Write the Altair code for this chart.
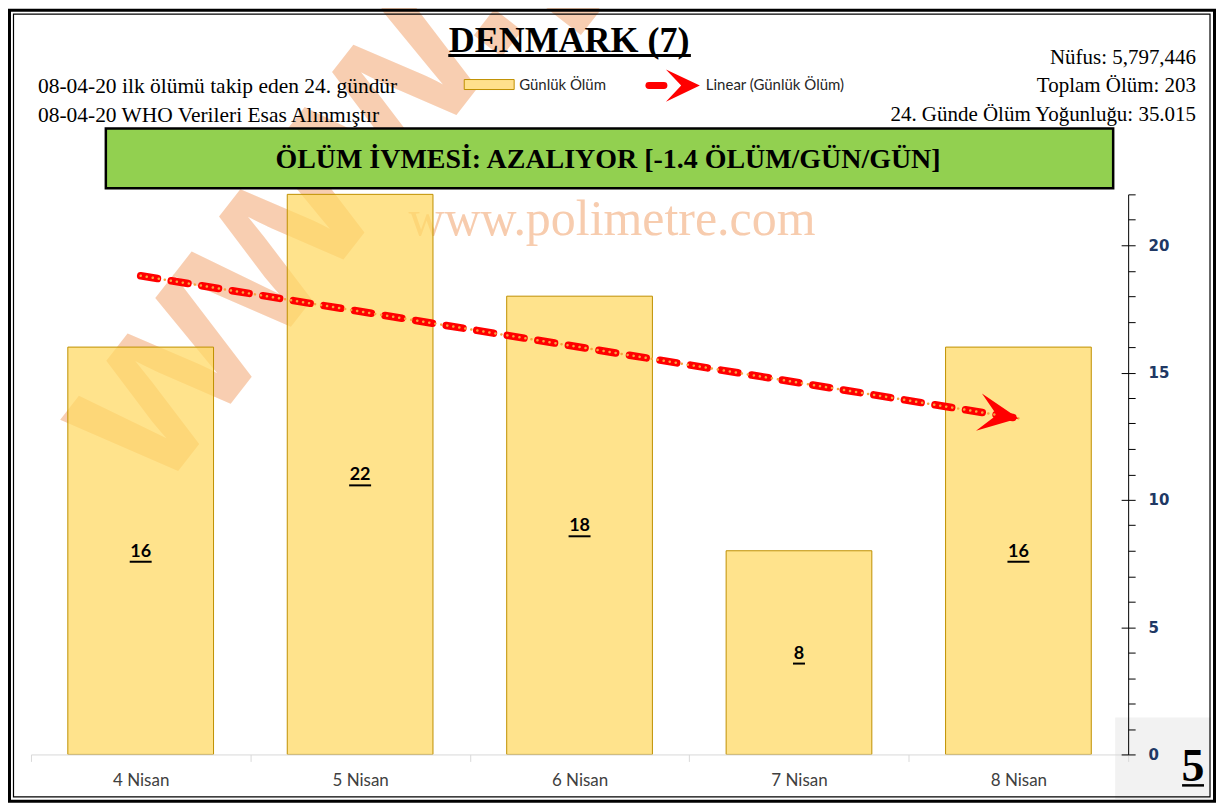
import json
import altair as alt
import pandas as pd

# ---------------- data ----------------
days = ["4 Nisan", "5 Nisan", "6 Nisan", "7 Nisan", "8 Nisan"]
deaths = [16, 22, 18, 8, 16]
day_no = [1, 2, 3, 4, 5]
y_major = [0, 5, 10, 15, 20]
y_minor = list(range(0, 23))

title_text = "DENMARK (7)"
left_lines = ["08-04-20 ilk ölümü takip eden 24. gündür",
              "08-04-20 WHO Verileri Esas Alınmıştır"]
right_lines = ["Nüfus: 5,797,446", "Toplam Ölüm: 203",
               "24. Günde Ölüm Yoğunluğu: 35.015"]
banner_text = "ÖLÜM İVMESİ: AZALIYOR [-1.4 ÖLÜM/GÜN/GÜN]"
legend_bar = "Günlük Ölüm"
legend_line = "Linear (Günlük Ölüm)"
watermark = "www.polimetre.com"
page_no = "5"

df = pd.DataFrame({"day": days, "deaths": deaths, "n": day_no})

W, H = 1099, 561
SERIF = "Liberation Serif"
SANS = "Lato"
BAR_FILL = "#FFD966"
LEG_FILL = "#FFE08C"
BAR_STROKE = "#BF9000"
ARROW = "M0,0 L-2,-0.95 L-1.1,0 L-2,0.95 Z"

xs = alt.Scale(domain=days, paddingInner=0, paddingOuter=0)
ys = alt.Scale(domain=[0, 22], nice=False, zero=True)

X_AXIS = alt.Axis(title=None, orient="bottom", tickBand="extent",
                  domainColor="#D9D9D9", tickColor="#D9D9D9", tickSize=7,
                  labelFont=SANS, labelFontSize=17, labelColor="#404040",
                  labelPadding=11, labelAngle=0, grid=False, zindex=1)

base = alt.Chart(df)
one = alt.Data(values=[{}])


def xenc():
    return alt.X("day:N", scale=xs, sort=days, axis=X_AXIS)


# gray box bottom-right
gray_box = alt.Chart(one).mark_rect(fill="#F2F2F2").encode(
    x=alt.value(1086), x2=alt.value(1182), y=alt.value(524), y2=alt.value(606))

big_wm = alt.Chart(one).mark_text(
    text=watermark, font="Liberation Sans Narrow, Liberation Sans", fontWeight="bold",
    fontSize=236, color="#F4B183", opacity=0.62, angle=308, align="left",
    baseline="alphabetic"
).encode(x=alt.value(128), y=alt.value(302))

small_wm = alt.Chart(one).mark_text(
    text=watermark, font=SERIF, fontSize=50, color="#F4B183", opacity=0.65,
    align="center", baseline="alphabetic").encode(x=alt.value(582), y=alt.value(41))

bars = base.mark_bar(width=alt.RelativeBandSize(0.664), fill=BAR_FILL, fillOpacity=0.75,
                     stroke=BAR_STROKE, strokeWidth=1).encode(
    x=xenc(),
    y=alt.Y("deaths:Q", scale=ys,
            axis=alt.Axis(orient="right", values=y_minor, title=None,
                          labelExpr="datum.value % 5 == 0 ? datum.label : ''",
                          labelOverlap=False, tickSize=7, tickColor="black",
                          domainColor="black", labelFont="DejaVu Sans",
                          labelFontWeight="bold", labelFontSize=15,
                          labelColor="#203864", labelPadding=13, grid=False,
                          zindex=1)),
)

inner_ticks = base.mark_point(opacity=0).encode(
    x=xenc(),
    y=alt.Y("deaths:Q", scale=ys,
            axis=alt.Axis(orient="left", offset=-W, values=y_major, labels=False,
                          domain=False, tickSize=7, tickColor="black", title=None,
                          grid=False, zindex=1)),
)

banner_box = alt.Chart(one).mark_rect(fill="#92D050", stroke="black", strokeWidth=2.5).encode(
    x=alt.value(75), x2=alt.value(1084), y=alt.value(-66), y2=alt.value(-6))
banner = alt.Chart(one).mark_text(
    text=banner_text, font=SERIF, fontWeight="bold", fontSize=28, color="black",
    align="center", baseline="alphabetic").encode(x=alt.value(578), y=alt.value(-26))

title = alt.Chart(one).mark_text(
    text=title_text, font=SERIF, fontWeight="bold", fontSize=36, color="black",
    align="center", baseline="alphabetic").encode(x=alt.value(539), y=alt.value(-143))
title_ul = alt.Chart(one).mark_rule(color="black", strokeWidth=3).encode(
    x=alt.value(418), x2=alt.value(661), y=alt.value(-139))

left_txt = [alt.Chart(one).mark_text(
    text=t, font=SERIF, fontSize=21.5, color="black", align="left",
    baseline="alphabetic").encode(x=alt.value(7), y=alt.value(yy))
    for t, yy in zip(left_lines, [-102, -72])]
right_txt = [alt.Chart(one).mark_text(
    text=t, font=SERIF, fontSize=21, color="black", align="right",
    baseline="alphabetic").encode(x=alt.value(1167), y=alt.value(yy))
    for t, yy in zip(right_lines, [-131, -103, -73])]

leg_rect = alt.Chart(one).mark_rect(fill=LEG_FILL, stroke=BAR_STROKE, strokeWidth=1).encode(
    x=alt.value(434), x2=alt.value(484), y=alt.value(-115), y2=alt.value(-105))
leg_t1 = alt.Chart(one).mark_text(
    text=legend_bar, font=SANS, fontSize=15, color="#262626", align="left",
    baseline="middle").encode(x=alt.value(489), y=alt.value(-110))
leg_dash = alt.Chart(one).mark_rule(color="#FF0000", strokeWidth=7, strokeCap="round").encode(
    x=alt.value(619), x2=alt.value(634), y=alt.value(-109))
leg_arrow = alt.Chart(one).mark_point(
    shape=ARROW, size=1156, filled=True, color="#FF0000", opacity=1, strokeWidth=0
).encode(x=alt.value(670), y=alt.value(-109))
leg_t2 = alt.Chart(one).mark_text(
    text=legend_line, font=SANS, fontSize=15, color="#262626", align="left",
    baseline="middle").encode(x=alt.value(676), y=alt.value(-110))

labels = base.transform_calculate(mid="datum.deaths / 2").mark_text(
    font=SANS, fontWeight="bold", fontSize=18, color="black", baseline="middle", dy=1
).encode(x=xenc(), y=alt.Y("mid:Q", scale=ys, axis=None), text="deaths:Q")
label_ul = base.transform_calculate(
    mid="datum.deaths / 2", ulen="length(toString(datum.deaths)) * 10 + 2"
).mark_tick(thickness=2, yOffset=11, color="black", opacity=1).encode(
    x=xenc(), y=alt.Y("mid:Q", scale=ys, axis=None),
    size=alt.Size("ulen:Q", scale=None, legend=None))

trend = base.transform_regression("n", "deaths", method="linear").transform_calculate(
    day=f"{json.dumps(days)}[datum.n - 1]")
trend_red = trend.mark_line(color="#FF0000", strokeWidth=7.5, strokeDash=[17, 14],
                            strokeCap="round").encode(
    x=xenc(), y=alt.Y("deaths:Q", scale=ys, axis=None))
trend_dots = trend.mark_line(color="#F7A541", strokeWidth=2.5, strokeDash=[0.1, 6],
                             strokeCap="round").encode(
    x=xenc(), y=alt.Y("deaths:Q", scale=ys, axis=None))
trend_arrow = trend.transform_joinaggregate(nmax="max(n)").transform_filter(
    "datum.n == datum.nmax").mark_point(
    shape=ARROW, size=1600, filled=True, color="#FF0000", opacity=1,
    strokeWidth=0, angle=9).encode(x=xenc(), y=alt.Y("deaths:Q", scale=ys, axis=None))

page = alt.Chart(one).mark_text(
    text=page_no, font=SERIF, fontWeight="bold", fontSize=46, color="black",
    align="center", baseline="alphabetic").encode(x=alt.value(1164), y=alt.value(588))
page_ul = alt.Chart(one).mark_rule(color="black", strokeWidth=2.5).encode(
    x=alt.value(1153), x2=alt.value(1175), y=alt.value(592))

frame_outer = alt.Chart(one).mark_rect(fill=None, stroke="black", strokeWidth=3).encode(
    x=alt.value(-21.5), x2=alt.value(1185.5), y=alt.value(-184.5), y2=alt.value(608))
frame_inner = alt.Chart(one).mark_rect(fill=None, stroke="black", strokeWidth=1.2).encode(
    x=alt.value(-17.5), x2=alt.value(1181), y=alt.value(-180.5), y2=alt.value(603.5))

chart = alt.layer(
    gray_box, big_wm, small_wm, bars, inner_ticks, banner_box, banner, title, title_ul,
    *left_txt, *right_txt, leg_rect, leg_t1, leg_dash, leg_arrow, leg_t2,
    labels, label_ul, trend_red, trend_dots, trend_arrow, page, page_ul,
    frame_outer, frame_inner,
).resolve_axis(y="independent").properties(
    width=W, height=H,
    padding={"left": 23, "top": 186, "right": 88, "bottom": 50},
    autosize=alt.AutoSizeParams(type="none"),
    background="white",
).configure_view(stroke=None)

chart.save("out.html", embed_options={"renderer": "svg", "actions": False})
